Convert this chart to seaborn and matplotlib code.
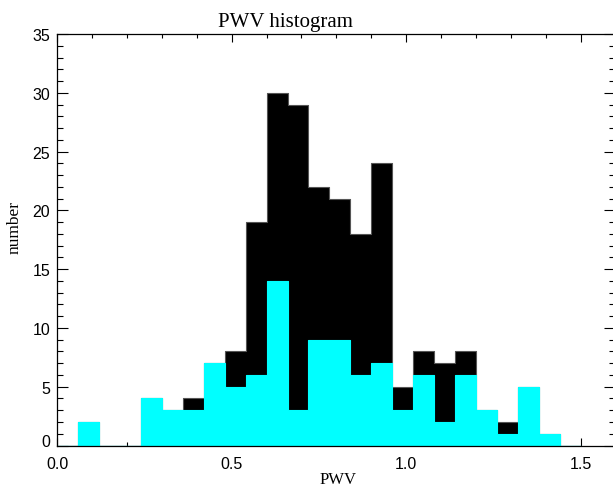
import matplotlib
matplotlib.use("Agg")
import matplotlib.pyplot as plt
import matplotlib.transforms as mtransforms
from matplotlib.ticker import MultipleLocator
import seaborn as sns
import numpy as np

# ---- data ----
bin_edges = [0.00, 0.06, 0.12, 0.18, 0.24, 0.30, 0.36, 0.42, 0.48, 0.54,
             0.60, 0.66, 0.72, 0.78, 0.84, 0.90, 0.96, 1.02, 1.08, 1.14,
             1.20, 1.26, 1.32, 1.38, 1.44, 1.50]
bin_centers = [0.03, 0.09, 0.15, 0.21, 0.27, 0.33, 0.39, 0.45, 0.51, 0.57,
               0.63, 0.69, 0.75, 0.81, 0.87, 0.93, 0.99, 1.05, 1.11, 1.17,
               1.23, 1.29, 1.35, 1.41, 1.47]
all_counts = [0, 2, 0, 0, 4, 3, 4, 7, 8, 19,
              30, 29, 22, 21, 18, 24, 5, 8, 7, 8,
              3, 2, 5, 1, 0]
subset_counts = [0, 2, 0, 0, 4, 3, 3, 7, 5, 6,
                 14, 3, 9, 9, 6, 7, 3, 6, 2, 6,
                 3, 1, 5, 1, 0]
x_ticks = [0.0, 0.5, 1.0, 1.5]
x_tick_labels = ["0.0", "0.5", "1.0", "1.5"]
y_ticks = [0, 5, 10, 15, 20, 25, 30, 35]

sns.set_theme(style="white")
plt.rcParams["font.family"] = ["Liberation Sans", "DejaVu Sans"]

W, H = 613, 489
fig = plt.figure(figsize=(W / 100, H / 100), dpi=100)
ax_left, ax_right, ax_top, ax_bot = 57.3, 615.4, 35.0, 446.5
ax = fig.add_axes([ax_left / W, 1 - ax_bot / H,
                   (ax_right - ax_left) / W, (ax_bot - ax_top) / H])

sns.histplot(x=bin_centers, weights=all_counts, bins=bin_edges,
             element="step", fill=True, color="black", alpha=1.0,
             edgecolor="#555555", linewidth=0.8, ax=ax)
sns.histplot(x=bin_centers, weights=subset_counts, bins=bin_edges,
             element="step", fill=True, color="#00FFFF", alpha=1.0,
             edgecolor="#00FFFF", linewidth=0.8, ax=ax)

ax.set_xlim(0, 1.6)
ax.set_ylim(0, 35)
ax.set_xticks(x_ticks)
ax.set_xticklabels(x_tick_labels)
ax.set_yticks(y_ticks)
ax.xaxis.set_minor_locator(MultipleLocator(0.1))
ax.yaxis.set_minor_locator(MultipleLocator(1))
ax.set_xlabel("")
ax.set_ylabel("")

for s in ax.spines.values():
    s.set_visible(True)
    s.set_color("black")
    s.set_linewidth(0.9)

px = 72 / 100
ax.tick_params(axis="x", which="major", direction="in", top=True, bottom=True,
               length=8.2 * px, width=0.8, color="black", pad=11 * px,
               labelsize=11.5, labelcolor="black")
ax.tick_params(axis="x", which="minor", direction="in", top=True, bottom=True,
               length=4.1 * px, width=0.8, color="black")
ax.tick_params(axis="y", which="major", direction="in", left=True, right=True,
               length=11.2 * px, width=0.8, color="black", pad=7 * px,
               labelsize=11.5, labelcolor="black")
ax.tick_params(axis="y", which="minor", direction="in", left=True, right=True,
               length=5.6 * px, width=0.8, color="black")
ax.grid(False)

# IDL places the "0" label slightly above its tick
lbl0 = ax.get_yticklabels()[0]
lbl0.set_transform(lbl0.get_transform() +
                   mtransforms.ScaledTranslation(0, 5 / 100, fig.dpi_scale_trans))

serif = ["Liberation Serif", "DejaVu Serif"]
fig.text(285.5 / W, 1 - 26.5 / H, "PWV histogram", ha="center", va="baseline",
         fontsize=15, family=serif, color="black")
fig.text(338 / W, 1 - 484.5 / H, "PWV", ha="center", va="baseline",
         fontsize=12, family=serif, color="black")
fig.text(15 / W, 1 - 228 / H, "number", ha="center", va="center",
         rotation=90, fontsize=12.5, family=serif, color="black")

fig.savefig("out.png", dpi=100, facecolor="white")
